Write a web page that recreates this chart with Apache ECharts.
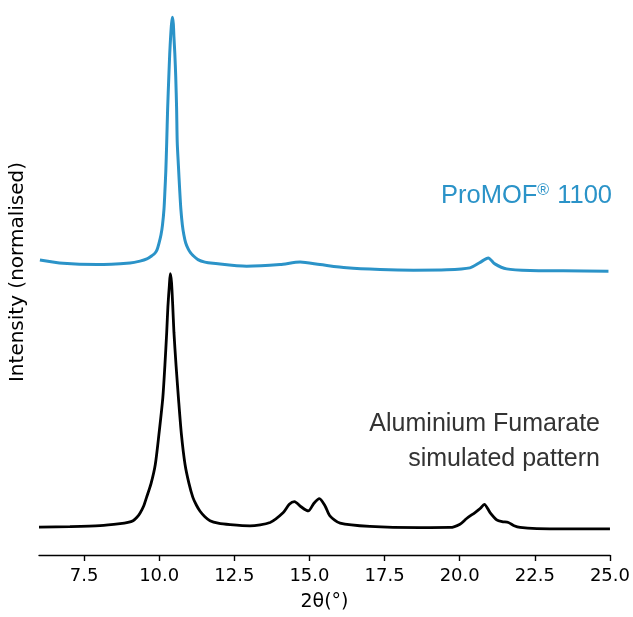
<!DOCTYPE html>
<html>
<head>
<meta charset="utf-8">
<script src="https://cdn.jsdelivr.net/npm/echarts@6/dist/echarts.min.js"></script>
<style>html,body{margin:0;padding:0;background:#fff}#c{width:633px;height:617px}</style>
</head>
<body>
<div id="c"></div>
<script>
// 2θ positions (degrees) and normalised intensities
const simTheta = [6.00, 7.03, 8.03, 8.70, 8.96, 9.13, 9.26, 9.36, 9.48, 9.58, 9.73, 9.87, 9.99, 10.12, 10.19, 10.25, 10.29, 10.34, 10.37, 10.41, 10.45, 10.49, 10.56, 10.64, 10.74, 10.86, 10.99, 11.12, 11.24, 11.36, 11.52, 11.69, 11.96, 12.36, 13.02, 13.69, 14.13, 14.33, 14.50, 14.72, 14.96, 15.15, 15.33, 15.52, 15.68, 16.02, 17.01, 18.68, 19.68, 20.01, 20.23, 20.51, 20.68, 20.82, 21.01, 21.23, 21.41, 21.62, 21.81, 22.01, 22.57, 23.67, 25.00];
const simIntensity = [5.13, 5.22, 5.40, 5.77, 6.01, 6.32, 6.96, 7.69, 8.97, 10.62, 13.19, 16.67, 22.16, 28.94, 34.98, 41.03, 45.79, 49.82, 51.83, 50.18, 45.97, 41.03, 34.98, 28.94, 22.16, 16.67, 13.19, 10.62, 9.16, 8.06, 7.05, 6.32, 5.86, 5.59, 5.37, 5.99, 7.82, 9.34, 9.84, 8.88, 8.11, 9.52, 10.38, 9.03, 7.20, 5.86, 5.26, 5.04, 5.07, 5.68, 6.72, 7.82, 8.55, 9.34, 7.82, 6.47, 6.14, 5.99, 5.40, 5.07, 4.85, 4.80, 4.80];

const mofTheta = [6.03, 6.80, 7.93, 9.03, 9.36, 9.59, 9.76, 9.86, 9.93, 9.99, 10.06, 10.11, 10.16, 10.19, 10.22, 10.25, 10.28, 10.32, 10.35, 10.38, 10.41, 10.44, 10.47, 10.49, 10.52, 10.55, 10.58, 10.60, 10.64, 10.68, 10.72, 10.77, 10.82, 10.88, 10.96, 11.04, 11.13, 11.29, 11.52, 11.79, 12.91, 14.02, 14.69, 15.35, 16.24, 17.35, 18.46, 19.57, 20.34, 20.68, 20.95, 21.17, 21.56, 22.34, 23.45, 24.95];
const mofIntensity = [54.34, 53.72, 53.48, 53.79, 54.12, 54.52, 55.13, 55.59, 56.23, 57.33, 58.97, 60.81, 63.74, 67.03, 70.70, 76.01, 82.05, 88.10, 92.31, 95.42, 97.80, 99.03, 97.80, 95.42, 92.31, 88.10, 82.05, 76.01, 71.61, 67.40, 63.74, 60.81, 58.97, 57.51, 56.41, 55.68, 55.13, 54.40, 53.94, 53.72, 53.17, 53.48, 53.94, 53.48, 52.88, 52.56, 52.44, 52.51, 52.88, 53.90, 54.71, 53.61, 52.69, 52.38, 52.33, 52.25];

const xTicks = [7.5, 10, 12.5, 15, 17.5, 20, 22.5, 25];
const xName = '2θ(°)';
const yName = 'Intensity (normalised)';
const mofLabel = ['ProMOF', '®', ' 1100'];
const simLabel = ['Aluminium Fumarate', 'simulated pattern'];

const zip = (a, b) => a.map((v, i) => [v, b[i]]);
const BLUE = '#2b93c8';

const chart = echarts.init(document.getElementById('c'), null, {renderer: 'canvas'});
chart.setOption({
  animation: false,
  backgroundColor: '#ffffff',
  grid: {left: 39, right: 23, top: 12, bottom: 58},
  xAxis: {
    type: 'value', min: 6, max: 25,
    name: xName, nameLocation: 'middle', nameGap: 38,
    nameTextStyle: {fontFamily: 'DejaVu Sans', fontSize: 19, color: '#000'},
    axisLine: {show: true, onZero: false, lineStyle: {color: '#000', width: 1.4}},
    axisTick: {show: true, length: 6, lineStyle: {color: '#000', width: 1.4}, customValues: xTicks},
    axisLabel: {customValues: xTicks, margin: 12, fontFamily: 'DejaVu Sans', fontSize: 18, color: '#000',
      formatter: v => Number(v).toFixed(1)},
    splitLine: {show: false}
  },
  yAxis: {
    type: 'value', min: 0, max: 100,
    axisLine: {show: false}, axisTick: {show: false}, axisLabel: {show: false}, splitLine: {show: false}
  },
  series: [
    {type: 'line', data: zip(simTheta, simIntensity), showSymbol: false, smooth: 0.25,
     lineStyle: {color: '#000', width: 2.8}, itemStyle: {color: '#000'}},
    {type: 'line', data: zip(mofTheta, mofIntensity), showSymbol: false, smooth: 0.25,
     lineStyle: {color: BLUE, width: 3}, itemStyle: {color: BLUE}}
  ],
  graphic: [
    {type: 'text', x: 18, y: 272, rotation: Math.PI / 2,
     style: {text: yName, font: '20px "DejaVu Sans"', fill: '#000', textAlign: 'center', textVerticalAlign: 'middle'}},
    {type: 'text', x: 612, y: 196,
     style: {text: '{a|' + mofLabel[0] + '}{b|' + mofLabel[1] + '}{a|' + mofLabel[2] + '}',
       textAlign: 'right', textVerticalAlign: 'middle',
       rich: {a: {fontFamily: 'Liberation Sans', fontSize: 25.5, fill: BLUE, color: BLUE},
              b: {fontFamily: 'Liberation Sans', fontSize: 16, fill: BLUE, color: BLUE, verticalAlign: 'top', padding: [0, 1, 10, 0]}}}},
    {type: 'text', x: 600, y: 424,
     style: {text: simLabel[0], font: '25px "Liberation Sans"', fill: '#333', textAlign: 'right', textVerticalAlign: 'middle'}},
    {type: 'text', x: 600, y: 459,
     style: {text: simLabel[1], font: '25px "Liberation Sans"', fill: '#333', textAlign: 'right', textVerticalAlign: 'middle'}}
  ]
});
</script>
</body>
</html>
